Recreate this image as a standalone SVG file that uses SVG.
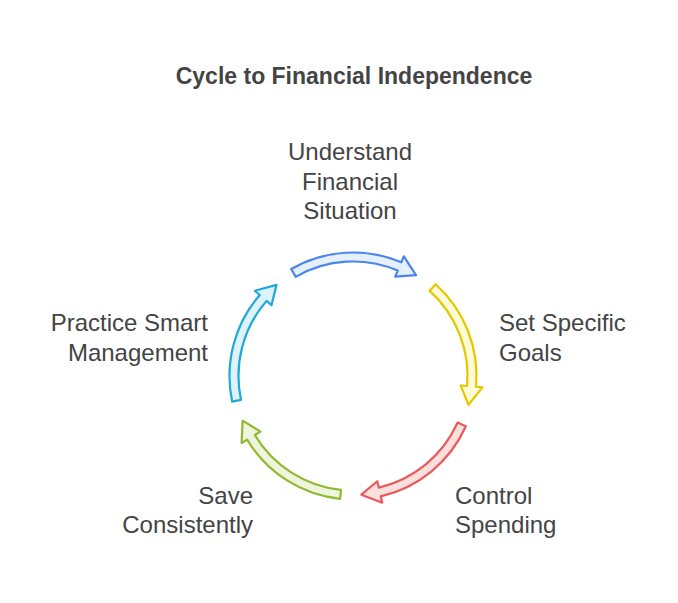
<svg xmlns="http://www.w3.org/2000/svg" width="678" height="603" viewBox="0 0 678 603">
<style>
text{font-family:"Liberation Sans",Arial,sans-serif;font-size:24px;fill:#444}
.t{font-weight:bold;font-size:23px;text-anchor:middle}
.a{stroke-width:2.2;stroke-linejoin:round}
</style>
<defs>
<path id="arr" d="M -61.75 -106.95 A 123.5 123.5 0 0 1 48.25 -113.68 L 50.79 -119.67 L 63.06 -100.92 L 42.20 -99.41 L 44.74 -105.40 A 114.5 114.5 0 0 0 -57.25 -99.16 Z"/>
</defs>
<rect width="678" height="603" fill="#fff"/>
<text class="t" x="354" y="84">Cycle to Financial Independence</text>
<g id="connectors" transform="translate(353,376)">
<use href="#arr" class="a" fill="#e6effc" stroke="#4a86e8"/>
<use href="#arr" class="a" fill="#fffbd6" stroke="#e3c800" transform="rotate(72)"/>
<use href="#arr" class="a" fill="#fde0de" stroke="#e85a5a" transform="rotate(144)"/>
<use href="#arr" class="a" fill="#eef5dc" stroke="#8fba30" transform="rotate(216)"/>
<use href="#arr" class="a" fill="#ddf2fa" stroke="#1ea9d6" transform="rotate(288)"/>
</g>
<g id="n1" text-anchor="middle"><text x="350" y="160">Understand</text><text x="350" y="190">Financial</text><text x="350" y="219">Situation</text></g>
<g id="n2"><text x="499" y="331">Set Specific</text><text x="499" y="361">Goals</text></g>
<g id="n3"><text x="455" y="504">Control</text><text x="455" y="533">Spending</text></g>
<g id="n4" text-anchor="end"><text x="253" y="504">Save</text><text x="253" y="533">Consistently</text></g>
<g id="n5" text-anchor="end"><text x="208" y="331">Practice Smart</text><text x="208" y="361">Management</text></g>
</svg>
